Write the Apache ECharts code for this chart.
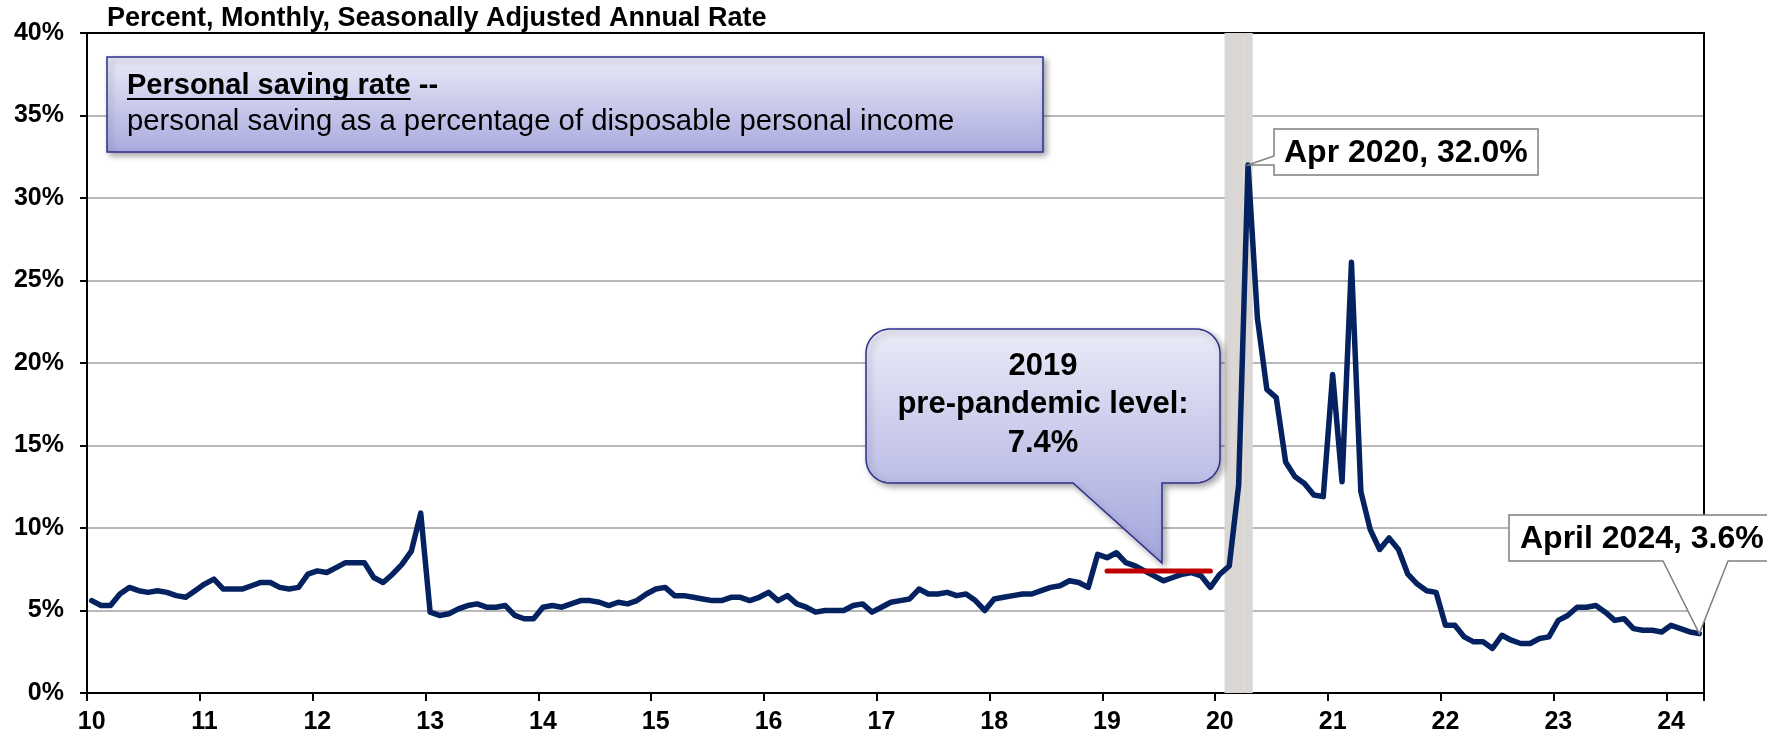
<!DOCTYPE html>
<html>
<head>
<meta charset="utf-8">
<script src="https://cdn.jsdelivr.net/npm/echarts@6/dist/echarts.min.js"></script>
<style>
html,body{margin:0;padding:0;background:#fff;}
#main{width:1767px;height:737px;}
</style>
</head>
<body>
<div id="main"></div>
<script>
// ---- data ----
const years = ['2010','2011','2012','2013','2014','2015','2016','2017','2018','2019','2020','2021','2022','2023','2024'];
const months = ['01','02','03','04','05','06','07','08','09','10','11','12'];
const lastMonth = '2024-04';
const categories = [];
for (const y of years) { for (const m of months) { const c = y + '-' + m; if (c <= lastMonth) categories.push(c); } }

const savingRate = [
  5.6, 5.3, 5.3, 6.0, 6.4, 6.2, 6.1, 6.2, 6.1, 5.9, 5.8, 6.2,   // 2010
  6.6, 6.9, 6.3, 6.3, 6.3, 6.5, 6.7, 6.7, 6.4, 6.3, 6.4, 7.2,   // 2011
  7.4, 7.3, 7.6, 7.9, 7.9, 7.9, 7.0, 6.7, 7.2, 7.8, 8.6, 10.9,  // 2012
  4.9, 4.7, 4.8, 5.1, 5.3, 5.4, 5.2, 5.2, 5.3, 4.7, 4.5, 4.5,   // 2013
  5.2, 5.3, 5.2, 5.4, 5.6, 5.6, 5.5, 5.3, 5.5, 5.4, 5.6, 6.0,   // 2014
  6.3, 6.4, 5.9, 5.9, 5.8, 5.7, 5.6, 5.6, 5.8, 5.8, 5.6, 5.8,   // 2015
  6.1, 5.6, 5.9, 5.4, 5.2, 4.9, 5.0, 5.0, 5.0, 5.3, 5.4, 4.9,   // 2016
  5.2, 5.5, 5.6, 5.7, 6.3, 6.0, 6.0, 6.1, 5.9, 6.0, 5.6, 5.0,   // 2017
  5.7, 5.8, 5.9, 6.0, 6.0, 6.2, 6.4, 6.5, 6.8, 6.7, 6.4, 8.4,   // 2018
  8.2, 8.5, 7.9, 7.7, 7.4, 7.1, 6.8, 7.0, 7.2, 7.3, 7.1, 6.4,   // 2019
  7.2, 7.7, 12.6, 32.0, 22.7, 18.4, 17.9, 14.0, 13.1, 12.7, 12.0, 11.9, // 2020
  19.3, 12.8, 26.1, 12.2, 9.9, 8.7, 9.4, 8.7, 7.2, 6.6, 6.2, 6.1, // 2021
  4.1, 4.1, 3.4, 3.1, 3.1, 2.7, 3.5, 3.2, 3.0, 3.0, 3.3, 3.4,   // 2022
  4.4, 4.7, 5.2, 5.2, 5.3, 4.9, 4.4, 4.5, 3.9, 3.8, 3.8, 3.7,   // 2023
  4.1, 3.9, 3.7, 3.6                                            // 2024
];

const recessionMonths = ['2020-02', '2020-03', '2020-04'];
const preLevelYear = '2019';
const preLevel = 7.4;
const yMin = 0, yMax = 40, yStep = 5;

const peakLabel = 'Apr 2020, 32.0%';
const peakMonth = '2020-04';
const lastLabel = 'April 2024, 3.6%';
const boxTitle = 'Personal saving rate';
const boxSubtitle = 'personal saving as a percentage of disposable personal income';
const calloutLines = ['2019', 'pre-pandemic level:', '7.4%'];
const unitsText = 'Percent, Monthly, Seasonally Adjusted Annual Rate';

// ---- chart ----
const FONT = "'Liberation Sans', Arial, sans-serif";
const chart = echarts.init(document.getElementById('main'), null, {renderer: 'canvas'});
const isJan = (idx, val) => String(val).endsWith('-01');

const option = {
  animation: false,
  grid: {left: 87, right: 63, top: 33, bottom: 44, containLabel: false},
  xAxis: [{
    type: 'category',
    data: categories,
    boundaryGap: true,
    axisLine: {show: true, lineStyle: {color: '#000', width: 2}},
    axisTick: {show: true, interval: isJan, length: 8, lineStyle: {color: '#000', width: 2}},
    axisLabel: {interval: isJan, formatter: v => v.slice(2, 4), margin: 17,
      fontFamily: FONT, fontSize: 25, fontWeight: 'bold', color: '#000'},
    splitLine: {show: false}
  }, {
    type: 'category', data: categories, position: 'top', boundaryGap: true,
    axisLine: {show: true, onZero: false, lineStyle: {color: '#000', width: 2}},
    axisTick: {show: false}, axisLabel: {show: false}, splitLine: {show: false}
  }],
  yAxis: [{
    type: 'value', min: yMin, max: yMax, interval: yStep,
    axisLine: {show: true, onZero: false, lineStyle: {color: '#000', width: 2}},
    axisTick: {show: true, length: 7, lineStyle: {color: '#000', width: 2}},
    axisLabel: {formatter: '{value}%', margin: 23, fontFamily: FONT, fontSize: 25, fontWeight: 'bold', color: '#000'},
    splitLine: {show: true, lineStyle: {color: '#a0a0a0', width: 1.5}}
  }, {
    type: 'value', min: yMin, max: yMax, interval: yStep, position: 'right',
    axisLine: {show: true, onZero: false, lineStyle: {color: '#000', width: 2}},
    axisTick: {show: false}, axisLabel: {show: false}, splitLine: {show: false}
  }],
  series: [{
    name: 'Recession', type: 'bar',
    data: categories.map(c => recessionMonths.includes(c) ? yMax : null),
    barCategoryGap: '0%', barGap: '-100%',
    itemStyle: {color: '#d9d6d3'}, silent: true, z: 1
  }, {
    name: 'Personal saving rate', type: 'line',
    data: savingRate,
    showSymbol: false, symbol: 'none',
    lineStyle: {color: '#04225f', width: 5.5, join: 'round', cap: 'round'},
    z: 3
  }, {
    name: '2019 level', type: 'line',
    data: categories.map(c => c.startsWith(preLevelYear) ? preLevel : null),
    showSymbol: false, symbol: 'none',
    lineStyle: {color: '#c00000', width: 5, cap: 'round'},
    z: 4
  }]
};
chart.setOption(option);

// ---- annotations ----
const measure = (txt, font) => {
  const cv = document.createElement('canvas').getContext('2d');
  cv.font = font; return cv.measureText(txt).width;
};
const grad = (c0, c1) => new echarts.graphic.LinearGradient(0, 0, 0, 1, [{offset: 0, color: c0}, {offset: 1, color: c1}]);
const shadow = {shadowBlur: 6, shadowOffsetX: 3, shadowOffsetY: 3, shadowColor: 'rgba(0,0,0,0.35)'};

const peakPt = chart.convertToPixel({xAxisIndex: 0, yAxisIndex: 0}, [peakMonth, savingRate[categories.indexOf(peakMonth)]]);
const lastPt = chart.convertToPixel({xAxisIndex: 0, yAxisIndex: 0}, [lastMonth, savingRate[savingRate.length - 1]]);

const titleW = measure(boxTitle, "bold 29px 'Liberation Sans'");

function arc(cx, cy, r, a0, a1, pts) {
  const n = 10;
  for (let k = 0; k <= n; k++) {
    const a = (a0 + (a1 - a0) * k / n) * Math.PI / 180;
    pts.push([cx + r * Math.cos(a), cy + r * Math.sin(a)]);
  }
}
// callout 2019: rounded box with tail
const c2 = {x0: 866, y0: 329, x1: 1220, y1: 483, r: 24, tl: 1073, tr: 1162, ty: 563};
const c2pts = [];
arc(c2.x1 - c2.r, c2.y0 + c2.r, c2.r, -90, 0, c2pts);
arc(c2.x1 - c2.r, c2.y1 - c2.r, c2.r, 0, 90, c2pts);
c2pts.push([c2.tr, c2.y1], [c2.tr, c2.ty], [c2.tl, c2.y1]);
arc(c2.x0 + c2.r, c2.y1 - c2.r, c2.r, 90, 180, c2pts);
arc(c2.x0 + c2.r, c2.y0 + c2.r, c2.r, 180, 270, c2pts);

// peak label box with wedge on left
const p = {x0: 1274, y0: 129, x1: 1538, y1: 175, wy0: 156, wy1: 165};
const ppts = [[p.x0, p.y0], [p.x1, p.y0], [p.x1, p.y1], [p.x0, p.y1], [p.x0, p.wy1], [peakPt[0], peakPt[1]], [p.x0, p.wy0]];
// last label box with wedge at bottom
const l = {x0: 1509, y0: 515, x1: 1800, y1: 561, wx0: 1663, wx1: 1728};
const lpts = [[l.x0, l.y0], [l.x1, l.y0], [l.x1, l.y1], [l.wx1, l.y1], [lastPt[0], lastPt[1]], [l.wx0, l.y1], [l.x0, l.y1]];

const b1 = {x: 107, y: 57, w: 936, h: 95};

const graphics = [
  {type: 'text', x: 107, y: 19, z: 100,
    style: {text: unitsText, font: `bold 27px ${FONT}`, fill: '#000', verticalAlign: 'middle'}},
  {type: 'rect', z: 100, shape: {x: b1.x, y: b1.y, width: b1.w, height: b1.h},
    style: Object.assign({fill: grad('#eaeaf8', '#a9aade'), stroke: '#2e2e8e', lineWidth: 1.5}, shadow)},
  {type: 'text', z: 101, x: 127, y: 86,
    style: {text: boxTitle, font: `bold 29px ${FONT}`, fill: '#000', verticalAlign: 'middle'}},
  {type: 'line', z: 101, shape: {x1: 127, y1: 99, x2: 127 + titleW, y2: 99}, style: {stroke: '#000', lineWidth: 2}},
  {type: 'text', z: 101, x: 127 + titleW, y: 86,
    style: {text: ' --', font: `bold 29px ${FONT}`, fill: '#000', verticalAlign: 'middle'}},
  {type: 'text', z: 101, x: 127, y: 122,
    style: {text: boxSubtitle, font: `29.3px ${FONT}`, fill: '#000', verticalAlign: 'middle'}},

  {type: 'polygon', z: 100, shape: {points: c2pts},
    style: Object.assign({fill: grad('#ebebf8', '#a3a5dc'), stroke: '#2e2e8e', lineWidth: 1.5}, shadow)},
  ...calloutLines.map((t, i) => ({type: 'text', z: 101, x: 1043, y: 366 + i * 38.5,
    style: {text: t, font: `bold 31px ${FONT}`, fill: '#000', align: 'center', verticalAlign: 'middle'}})),

  {type: 'polygon', z: 100, shape: {points: ppts}, style: {fill: '#fff', stroke: '#7f7f7f', lineWidth: 1.5}},
  {type: 'text', z: 101, x: 1284, y: 153,
    style: {text: peakLabel, font: `bold 32px ${FONT}`, fill: '#000', verticalAlign: 'middle'}},

  {type: 'polygon', z: 100, shape: {points: lpts}, style: {fill: '#fff', stroke: '#7f7f7f', lineWidth: 1.5}},
  {type: 'text', z: 101, x: 1520, y: 539,
    style: {text: lastLabel, font: `bold 32px ${FONT}`, fill: '#000', verticalAlign: 'middle'}}
];
chart.setOption({graphic: graphics});
</script>
</body>
</html>
